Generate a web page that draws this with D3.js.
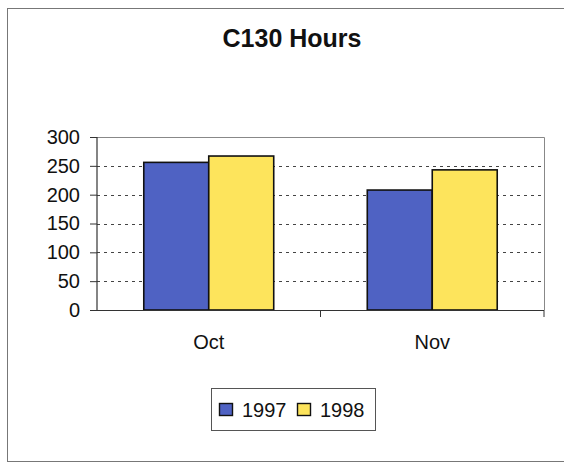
<!DOCTYPE html>
<html>
<head>
<meta charset="utf-8">
<script src="https://cdn.jsdelivr.net/npm/d3@7"></script>
<style>
html,body{margin:0;padding:0;background:#fff;}
svg{display:block;}
text{font-family:"Liberation Sans",Arial,sans-serif;fill:#111;}
</style>
</head>
<body>
<svg id="c" width="564" height="463"></svg>
<script>
const categories = ["Oct", "Nov"];
const seriesNames = ["1997", "1998"];
const values1997 = [256, 208];
const values1998 = [267, 243];
const yTicks = [0, 50, 100, 150, 200, 250, 300];
const colors = ["#4f62c3", "#fde45c"];
const chartTitle = "C130 Hours";

const series = [values1997, values1998];
const svg = d3.select("#c");

// outer frame
svg.append("rect").attr("x", 7.5).attr("y", 8.5).attr("width", 600).attr("height", 453)
  .attr("fill", "none").attr("stroke", "#777").attr("stroke-width", 1);

const pLeft = 97, pRight = 544, pTop = 137, pBottom = 310;
const x0 = d3.scaleBand().domain(categories).range([pLeft, pRight]).padding(0);
const x1 = d3.scaleBand().domain(seriesNames).range([0, x0.bandwidth()]).paddingInner(0).paddingOuter(0.72);
const y = d3.scaleLinear().domain([0, 300]).range([pBottom, pTop]);

// plot border (top/right)
svg.append("path").attr("d", `M${pLeft},${pTop+0.5}H${pRight+0.5}V${pBottom}`)
  .attr("fill", "none").attr("stroke", "#888").attr("stroke-width", 1);

// gridlines
svg.append("g").selectAll("line").data(yTicks.filter(d => d > 0 && d < 300)).join("line")
  .attr("x1", pLeft).attr("x2", pRight)
  .attr("y1", d => Math.round(y(d)) + 0.5).attr("y2", d => Math.round(y(d)) + 0.5)
  .attr("stroke", "#444").attr("stroke-width", 1.2).attr("stroke-dasharray", "3,4");

// bars
const g = svg.append("g");
categories.forEach((c, ci) => {
  seriesNames.forEach((s, si) => {
    g.append("rect")
      .attr("x", x0(c) + x1(s))
      .attr("y", y(series[si][ci]))
      .attr("width", x1.bandwidth())
      .attr("height", y(0) - y(series[si][ci]))
      .attr("fill", colors[si]).attr("stroke", "#111").attr("stroke-width", 1.6);
  });
});

// y axis
const yAxis = d3.axisLeft(y).tickValues(yTicks).tickSize(7).tickPadding(10);
const ya = svg.append("g").attr("transform", `translate(${pLeft},0)`).call(yAxis);
ya.select(".domain").attr("stroke", "#333").attr("stroke-width", 1.2).attr("d", `M0,${pTop}V${pBottom}`);
ya.selectAll(".tick line").attr("stroke", "#333");
ya.selectAll("text").style("font-size", "20px").style("font-family", "'Liberation Sans',Arial,sans-serif").attr("fill", "#111");

// x axis
const xa = svg.append("g").attr("transform", `translate(0,${pBottom})`);
xa.append("line").attr("x1", pLeft - 7).attr("x2", pRight).attr("y1", 0.5).attr("y2", 0.5).attr("stroke", "#333").attr("stroke-width", 1.2);
const bounds = categories.map(c => x0(c) + x0.bandwidth());
xa.selectAll(".xt").data(bounds).join("line").attr("class", "xt")
  .attr("x1", d => d).attr("x2", d => d).attr("y1", 0).attr("y2", 7).attr("stroke", "#333");
xa.selectAll(".xl").data(categories).join("text").attr("class", "xl")
  .attr("x", d => x0(d) + x0.bandwidth() / 2).attr("y", 39)
  .attr("text-anchor", "middle").style("font-size", "20px").text(d => d);

// title
svg.append("text").attr("x", 292).attr("y", 47).attr("text-anchor", "middle")
  .style("font-size", "25px").style("font-weight", "bold").text(chartTitle);

// legend
const lg = svg.append("g");
lg.append("rect").attr("x", 211.5).attr("y", 388.5).attr("width", 164).attr("height", 42)
  .attr("fill", "#fff").attr("stroke", "#555").attr("stroke-width", 1);
const legX = [219, 297];
seriesNames.forEach((s, i) => {
  lg.append("rect").attr("x", legX[i] + 0.5).attr("y", 403.5).attr("width", 13).attr("height", 12)
    .attr("fill", colors[i]).attr("stroke", "#111").attr("stroke-width", 1.4);
  lg.append("text").attr("x", legX[i] + 23).attr("y", 416.5).style("font-size", "20px").text(s);
});
</script>
</body>
</html>
